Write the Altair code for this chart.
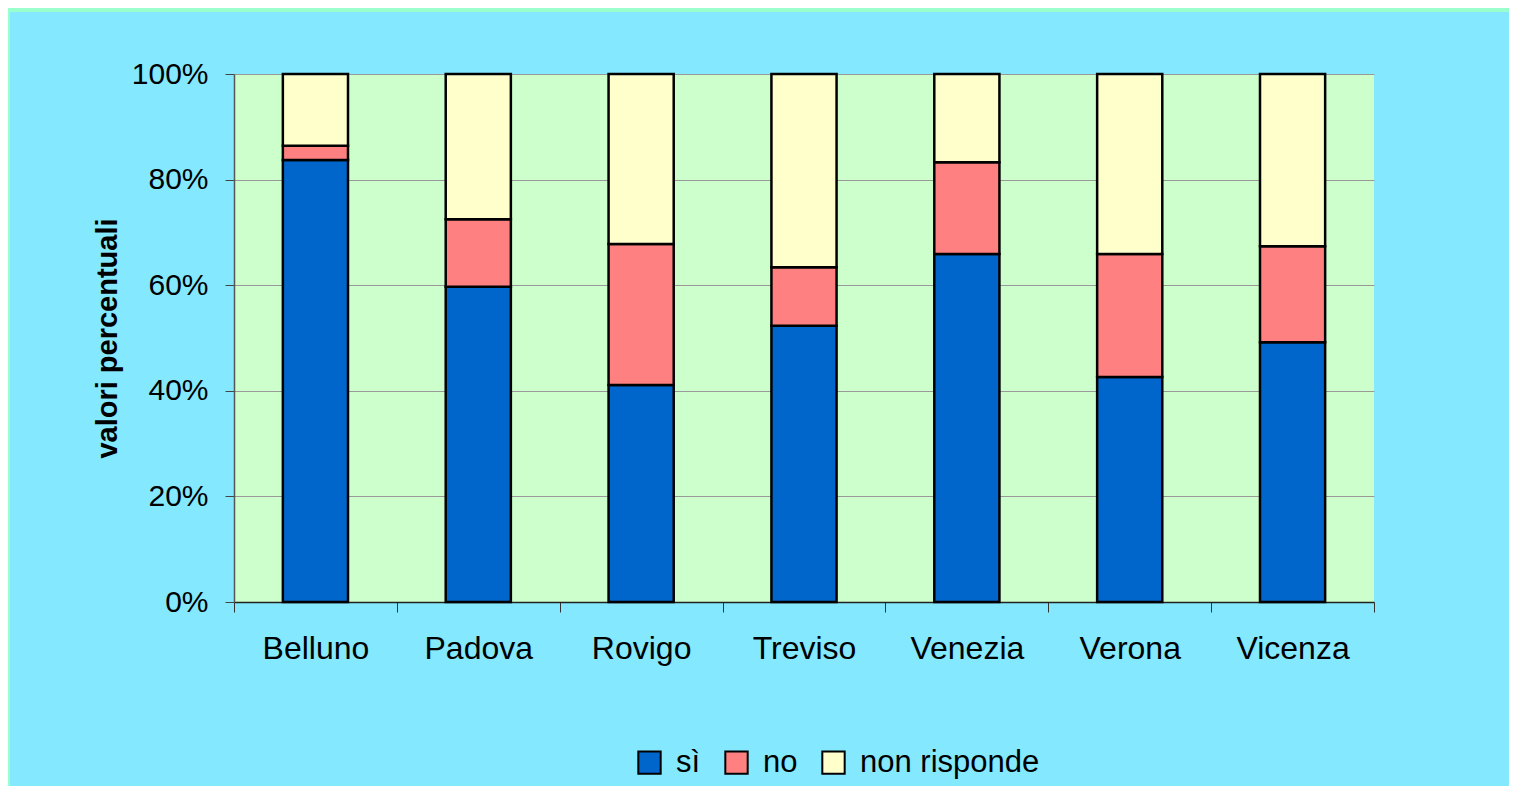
import altair as alt
import pandas as pd

categories = ["Belluno", "Padova", "Rovigo", "Treviso", "Venezia", "Verona", "Vicenza"]
si = [83.7, 59.7, 41.1, 52.3, 65.9, 42.6, 49.2]
no = [2.7, 12.8, 26.7, 11.1, 17.4, 23.3, 18.2]
nr = [13.6, 27.5, 32.2, 36.6, 16.7, 34.1, 32.6]
series = ["sì", "no", "non risponde"]
colors = ["#0066CC", "#FF8080", "#FFFFCC"]

rows = []
for i, c in enumerate(categories):
    for k, (s, vals) in enumerate(zip(series, [si, no, nr])):
        rows.append({"provincia": c, "risposta": s, "valore": vals[i], "ordine": k})
df = pd.DataFrame(rows)

W, H = 1140, 528
PL, PT, PR = 226, 66, 135
PB = 778 - PT - H
FONT = "Liberation Sans, Arial, sans-serif"

bars = alt.Chart(df).mark_bar(
    stroke="black", strokeWidth=2.5, width=alt.RelativeBandSize(0.4)
).encode(
    x=alt.X("provincia:N", sort=categories,
            scale=alt.Scale(paddingInner=0, paddingOuter=0),
            axis=alt.Axis(title=None, labelAngle=0, tickBand="extent",
                          labelFontSize=32, labelFont=FONT, labelColor="black",
                          labelPadding=21, tickSize=10, tickColor="#333333",
                          domainColor="#222222", domainWidth=1.5, grid=False)),
    y=alt.Y("valore:Q", stack="normalize",
            scale=alt.Scale(domain=[0, 1]),
            axis=alt.Axis(title="valori percentuali", format=".0%", values=[0, 0.2, 0.4, 0.6, 0.8, 1.0],
                          labelFontSize=30, labelFont=FONT, labelColor="black",
                          labelPadding=17, tickSize=9, tickColor="#444444",
                          domainColor="#555555", domainWidth=1.5,
                          grid=True, gridColor="#999999", gridWidth=1,
                          titleFont=FONT, titleFontSize=29, titleFontWeight="bold",
                          titleColor="black", titlePadding=9)),
    color=alt.Color("risposta:N", sort=series,
                    scale=alt.Scale(domain=series, range=colors),
                    legend=alt.Legend(title=None, orient="none", direction="horizontal",
                                      legendX=400, legendY=673,
                                      symbolType="square", symbolSize=500,
                                      symbolStrokeColor="black", symbolStrokeWidth=2,
                                      symbolOpacity=1, labelFontSize=31, labelFont=FONT,
                                      labelColor="black", labelOffset=11,
                                      columnPadding=20, labelLimit=400)),
    order=alt.Order("ordine:Q"),
)

strip_top = alt.Chart(df).mark_rect(color="#99FFCC", clip=False).encode(
    x=alt.value(-PL), x2=alt.value(W + PR), y=alt.value(-PT), y2=alt.value(-PT + 4)
)
strip_left = alt.Chart(df).mark_rect(color="#99FFCC", clip=False).encode(
    x=alt.value(-PL), x2=alt.value(-PL + 2), y=alt.value(-PT), y2=alt.value(H + PB)
)

chart = alt.layer(bars, strip_top, strip_left).properties(
    width=W, height=H,
    autosize=alt.AutoSizeParams(type="none"),
    padding={"left": PL, "top": PT, "right": PR, "bottom": PB},
    background="#84E8FF",
).configure_view(fill="#CCFFCC", stroke=None)

chart.save("out.html", embed_options={"renderer": "svg", "actions": False})
